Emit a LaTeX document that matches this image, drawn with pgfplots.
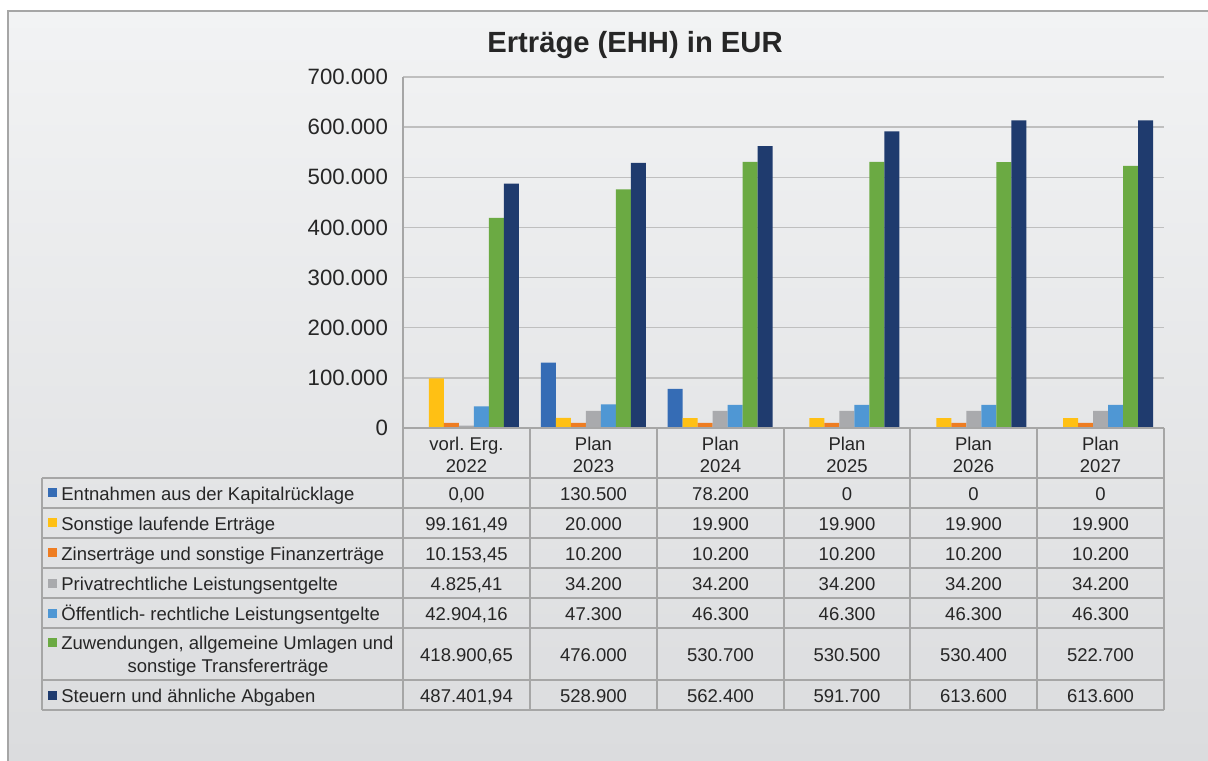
\documentclass[border=0pt]{standalone}
\usepackage{pgfplots}
\pgfplotsset{compat=1.18}
\usepackage{fontspec}
\setmainfont{Liberation Sans}
\definecolor{cA}{HTML}{356CB5}
\definecolor{cB}{HTML}{FFC014}
\definecolor{cC}{HTML}{EE7D22}
\definecolor{cD}{HTML}{A9AAAD}
\definecolor{cE}{HTML}{4F97D4}
\definecolor{cF}{HTML}{6BAA43}
\definecolor{cG}{HTML}{1F3B6E}
\definecolor{txt}{HTML}{262626}
\definecolor{grid}{HTML}{A6A6A6}
\begin{document}
\frenchspacing
\begin{tikzpicture}[x=0.5pt,y=0.5pt]
\useasboundingbox (0,0) rectangle (1208,760);
\clip (0,0) rectangle (1208,760);
\fill[white] (0,0) rectangle (1208,760);
\shade[top color={rgb,255:red,242;green,243;blue,244}, bottom color={rgb,255:red,219;green,220;blue,222}] (8,0) rectangle (1210,749);
\draw[grid, line width=0.9pt] (8,-2) -- (8,749) -- (1212,749);
\node[font=\fontsize{14.6}{17}\selectfont\bfseries, text=txt] at (635,715) {Erträge (EHH) in EUR};
\begin{axis}[
  at={(201.5pt,166pt)}, anchor=south west,
  scale only axis, width=380.5pt, height=175.5pt,
  xmin=-0.5, xmax=5.5, ymin=0, ymax=700000,
  ytick={0,100000,...,700000},
  xtick=\empty,
  scaled y ticks=false,
  yticklabel style={xshift=-4pt, /pgf/number format/.cd, fixed, 1000 sep={.}, assume math mode=true},
  tick label style={font=\fontsize{11.1}{13}\selectfont, text=txt},
  major tick length=0pt,
  axis line style={draw=none},
  ymajorgrids, grid style={grid, line width=0.75pt},
  ybar=0pt, bar width=7.5pt,
  every axis plot/.append style={draw=none},
  clip=false,
]
\addplot[fill=cA] coordinates {(0,0) (1,130500) (2,78200) (3,0) (4,0) (5,0)};
\addplot[fill=cB] coordinates {(0,99161.49) (1,20000) (2,19900) (3,19900) (4,19900) (5,19900)};
\addplot[fill=cC] coordinates {(0,10153.45) (1,10200) (2,10200) (3,10200) (4,10200) (5,10200)};
\addplot[fill=cD] coordinates {(0,4825.41) (1,34200) (2,34200) (3,34200) (4,34200) (5,34200)};
\addplot[fill=cE] coordinates {(0,42904.16) (1,47300) (2,46300) (3,46300) (4,46300) (5,46300)};
\addplot[fill=cF] coordinates {(0,418900.65) (1,476000) (2,530700) (3,530500) (4,530400) (5,522700)};
\addplot[fill=cG] coordinates {(0,487401.94) (1,528900) (2,562400) (3,591700) (4,613600) (5,613600)};
\end{axis}
% axis left line
\draw[grid, line width=0.75pt] (403,332) -- (403,683);
% table lines
\begin{scope}[grid, line width=1pt]
\draw (403,332) -- (1164,332);
\foreach \yy in {282,252,222,192,162,132,80,50} \draw (42,\yy) -- (1164,\yy);
\draw (42,282) -- (42,50);
\foreach \xx in {403,530,657,784,910,1037,1164} \draw (\xx,332) -- (\xx,50);
\end{scope}
\begin{scope}[font=\fontsize{9.25}{11}\selectfont, text=txt, every node/.style={text height=0.72em, text depth=0pt, inner sep=0pt}]
% header
\foreach \xx/\a/\b in {466.5/vorl. Erg./2022, 593.5/Plan/2023, 720.5/Plan/2024, 847/Plan/2025, 973.5/Plan/2026, 1100.5/Plan/2027}{
  \node at (\xx,317) {\a};
  \node at (\xx,295) {\b};
}
% legend keys
\foreach \yy/\c in {267/cA,237/cB,207/cC,177/cD,147/cE,118/cF,65/cG}
  \fill[\c] (48,\yy-4.5) rectangle (57,\yy+4.5);
\node[anchor=west] at (61,267) {Entnahmen aus der Kapitalrücklage};
\node[anchor=west] at (61,237) {Sonstige laufende Erträge};
\node[anchor=west] at (61,207) {Zinserträge und sonstige Finanzerträge};
\node[anchor=west] at (61,177) {Privatrechtliche Leistungsentgelte};
\node[anchor=west] at (61,147) {Öffentlich- rechtliche Leistungsentgelte};
\node[anchor=west] at (61,118) {Zuwendungen, allgemeine Umlagen und};
\node at (228,95) {sonstige Transfererträge};
\node[anchor=west] at (61,65) {Steuern und ähnliche Abgaben};
% values
\foreach \xx/\a/\b/\c/\d/\e/\f/\g in {
  466.5/{0,00}/{99.161,49}/{10.153,45}/{4.825,41}/{42.904,16}/{418.900,65}/{487.401,94},
  593.5/130.500/20.000/10.200/34.200/47.300/476.000/528.900,
  720.5/78.200/19.900/10.200/34.200/46.300/530.700/562.400,
  847/0/19.900/10.200/34.200/46.300/530.500/591.700,
  973.5/0/19.900/10.200/34.200/46.300/530.400/613.600,
  1100.5/0/19.900/10.200/34.200/46.300/522.700/613.600}{
  \node at (\xx,267) {\a};
  \node at (\xx,237) {\b};
  \node at (\xx,207) {\c};
  \node at (\xx,177) {\d};
  \node at (\xx,147) {\e};
  \node at (\xx,106) {\f};
  \node at (\xx,65) {\g};
}
\end{scope}
\end{tikzpicture}
\end{document}
